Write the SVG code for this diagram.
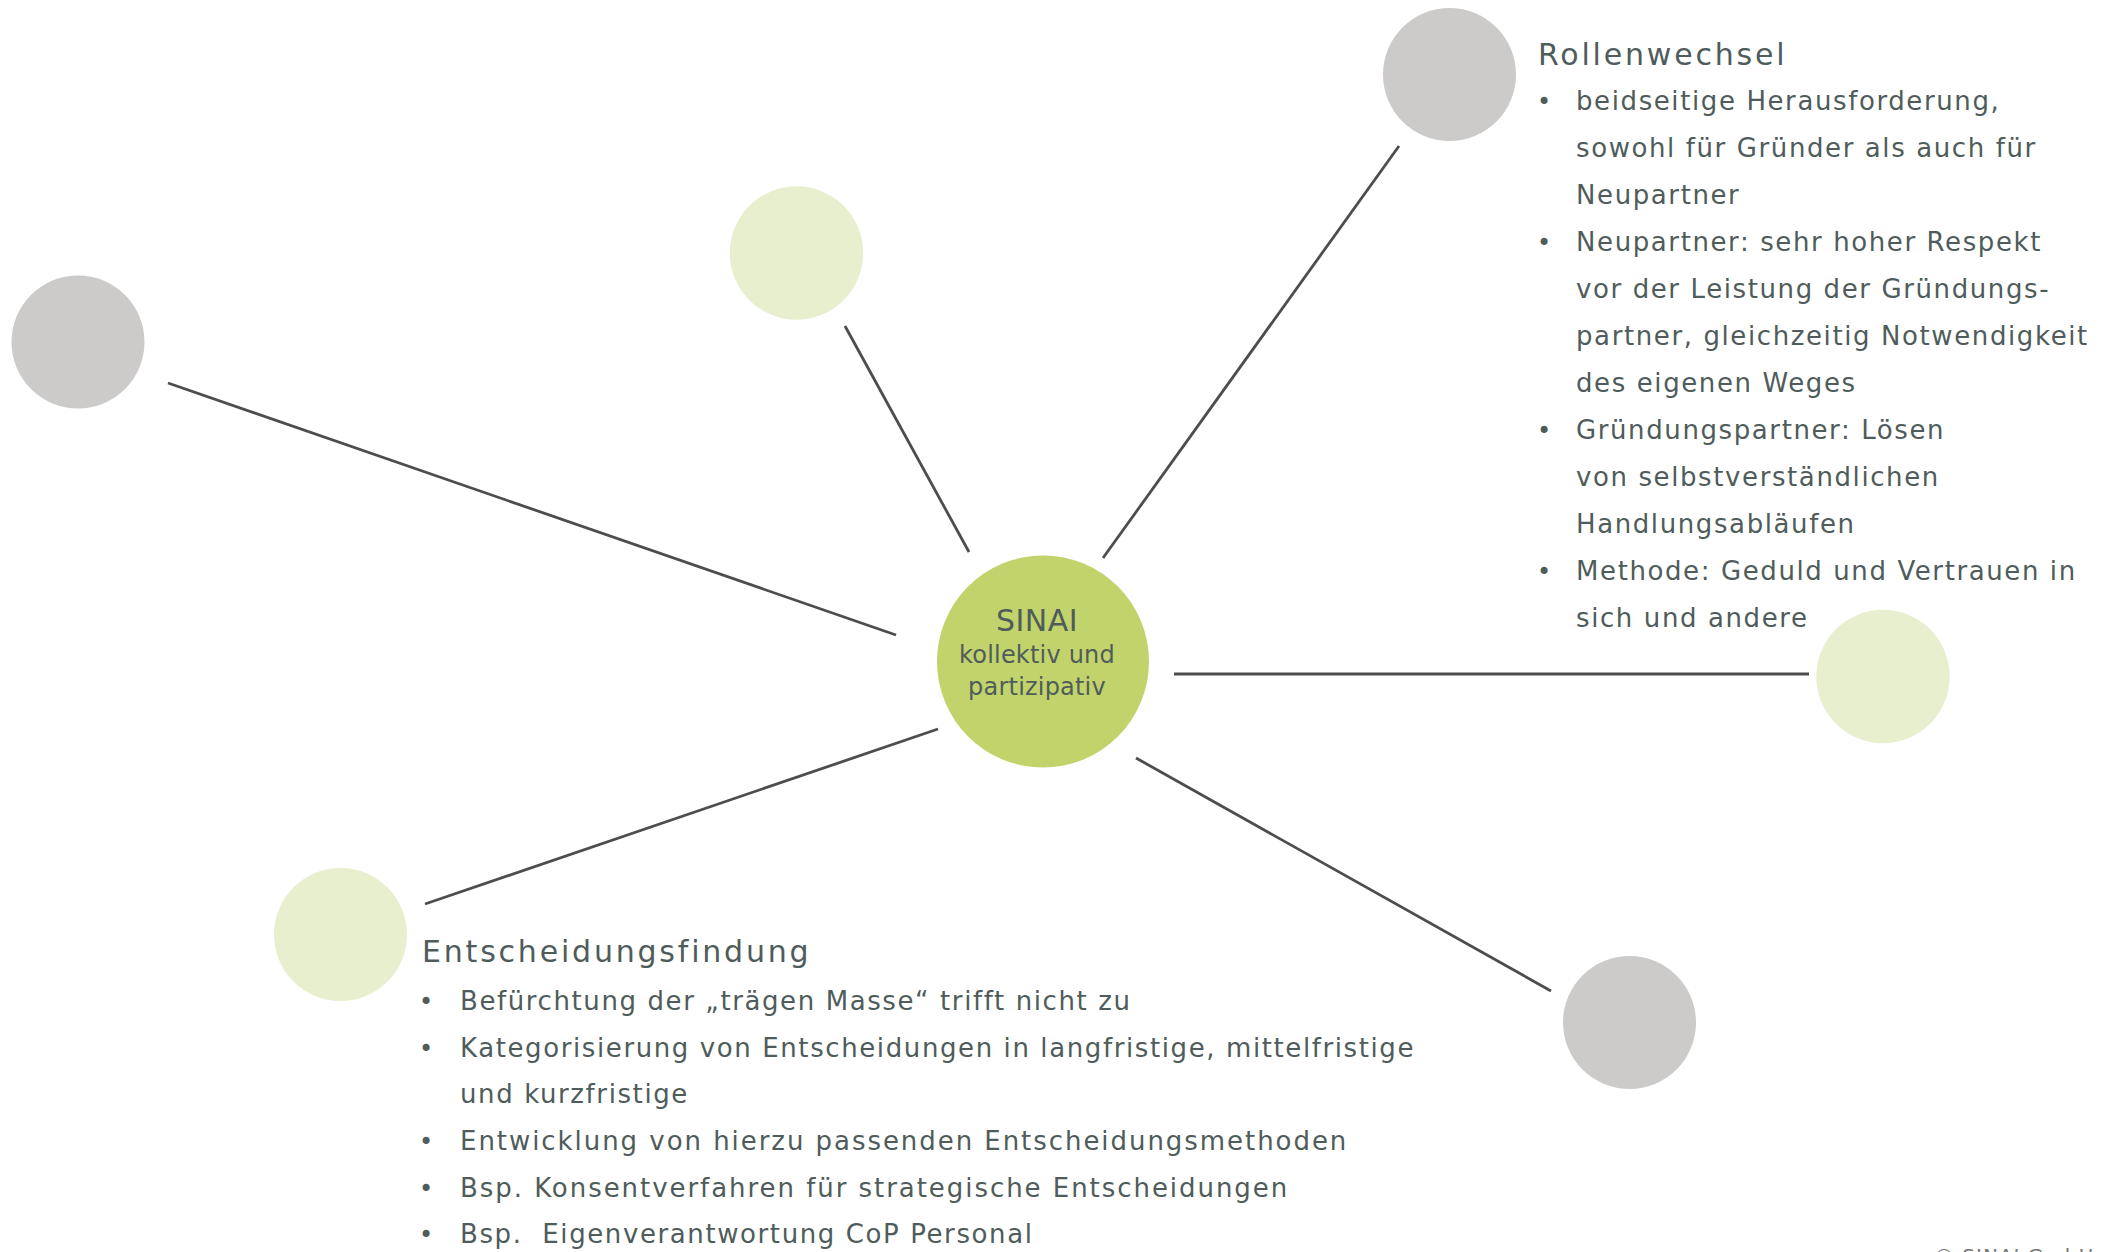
<svg xmlns="http://www.w3.org/2000/svg" width="2104" height="1252" viewBox="0 0 2104 1252">
<style>
.gray{fill:#cccbca}
.lg{fill:#e7efce}
.core{fill:#c2d36b}
.con line{stroke:#4d4d4d;stroke-width:2.8;stroke-linecap:butt}
text{font-family:"DejaVu Sans","Liberation Sans",Arial,sans-serif;fill:#4f5c5b}
.title{font-size:30px;letter-spacing:2.8px}
.body{font-size:26px;letter-spacing:1.6px}
.wide{letter-spacing:1.95px}
.bul{font-size:24px;text-anchor:middle}
.ctr{text-anchor:middle}
.copy{font-size:20px;fill:#777;letter-spacing:1px}
</style>
<rect width="2104" height="1252" fill="#fff"/>
<g id="connectors" class="con">
<line x1="168" y1="383" x2="896" y2="635"/>
<line x1="845" y1="326" x2="969" y2="552"/>
<line x1="1103" y1="558" x2="1399" y2="146"/>
<line x1="1174" y1="674" x2="1809" y2="674"/>
<line x1="938" y1="729" x2="425" y2="904"/>
<line x1="1136" y1="758" x2="1551" y2="991"/>
</g>
<g id="node-left"><circle class="gray" cx="78" cy="342" r="66.5"/></g>
<g id="node-top"><circle class="lg" cx="796.5" cy="253" r="66.7"/></g>
<g id="node-topright"><circle class="gray" cx="1449.5" cy="74.5" r="66.5"/></g>
<g id="node-right"><circle class="lg" cx="1883" cy="676.5" r="66.7"/></g>
<g id="node-bottomleft"><circle class="lg" cx="340.5" cy="934.5" r="66.5"/></g>
<g id="node-bottomright"><circle class="gray" cx="1629.5" cy="1022.5" r="66.5"/></g>
<g id="node-center">
<circle class="core" cx="1043" cy="661.5" r="106"/>
<text class="ctr" x="1037" y="631" font-size="30" letter-spacing="0.5">SINAI</text>
<text class="ctr" x="1037" y="663" font-size="24" letter-spacing="0.2">kollektiv und</text>
<text class="ctr" x="1037" y="695" font-size="24" letter-spacing="0.2">partizipativ</text>
</g>
<g id="text-rollenwechsel">
<text class="title" x="1538" y="65">Rollenwechsel</text>
<text class="bul" x="1544" y="110">•</text>
<text class="body" x="1576" y="110">beidseitige Herausforderung,</text>
<text class="body" x="1576" y="157">sowohl für Gründer als auch für</text>
<text class="body" x="1576" y="204">Neupartner</text>
<text class="bul" x="1544" y="251">•</text>
<text class="body" x="1576" y="251">Neupartner: sehr hoher Respekt</text>
<text class="body" x="1576" y="298">vor der Leistung der Gründungs-</text>
<text class="body" x="1576" y="345">partner, gleichzeitig Notwendigkeit</text>
<text class="body" x="1576" y="392">des eigenen Weges</text>
<text class="bul" x="1544" y="439">•</text>
<text class="body" x="1576" y="439">Gründungspartner: Lösen</text>
<text class="body" x="1576" y="486">von selbstverständlichen</text>
<text class="body" x="1576" y="533">Handlungsabläufen</text>
<text class="bul" x="1544" y="580">•</text>
<text class="body" x="1576" y="580">Methode: Geduld und Vertrauen in</text>
<text class="body" x="1576" y="627">sich und andere</text>
</g>
<g id="text-entscheidung">
<text class="title" x="422" y="962">Entscheidungsfindung</text>
<text class="bul" x="426" y="1010">•</text>
<text class="body" x="460" y="1010">Befürchtung der „trägen Masse“ trifft nicht zu</text>
<text class="bul" x="426" y="1057">•</text>
<text class="body" x="460" y="1057">Kategorisierung von Entscheidungen in langfristige, mittelfristige</text>
<text class="body" x="460" y="1103">und kurzfristige</text>
<text class="bul" x="426" y="1150">•</text>
<text class="body wide" x="460" y="1150">Entwicklung von hierzu passenden Entscheidungsmethoden</text>
<text class="bul" x="426" y="1197">•</text>
<text class="body wide" x="460" y="1197">Bsp. Konsentverfahren für strategische Entscheidungen</text>
<text class="bul" x="426" y="1243">•</text>
<text class="body" x="460" y="1243" xml:space="preserve">Bsp.  Eigenverantwortung CoP Personal</text>
</g>
<text class="copy" x="1934" y="1263">© SINAI GmbH</text>
</svg>
